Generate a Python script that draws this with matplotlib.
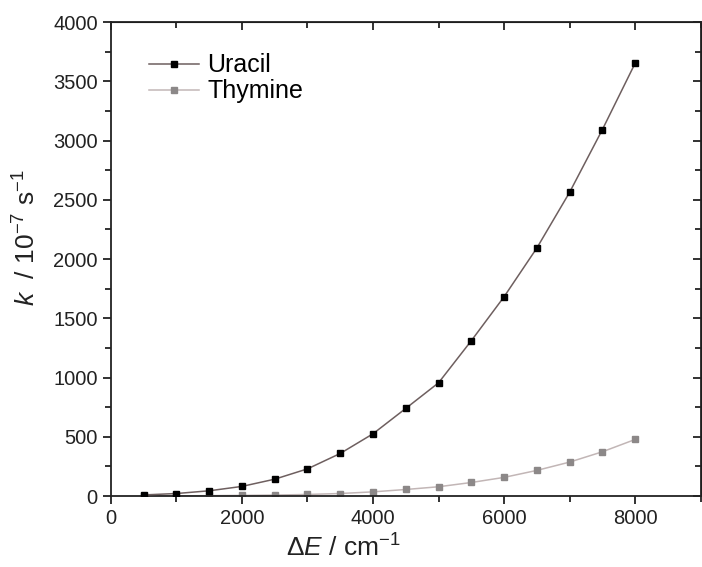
import numpy as np
import matplotlib
matplotlib.use("Agg")
import matplotlib.pyplot as plt
from matplotlib.ticker import MultipleLocator

plt.rcParams['font.family'] = ['Liberation Sans', 'DejaVu Sans']
plt.rcParams['mathtext.fontset'] = 'custom'
plt.rcParams['mathtext.rm'] = 'Liberation Sans'
plt.rcParams['mathtext.it'] = 'Liberation Sans:italic'

# data
delta_e = [500, 1000, 1500, 2000, 2500, 3000, 3500, 4000,
           4500, 5000, 5500, 6000, 6500, 7000, 7500, 8000]
uracil = [10, 22, 45, 82, 143, 230, 360, 526,
          740, 956, 1311, 1682, 2093, 2563, 3092, 3652]
thymine = [1, 2, 4, 6, 9, 14, 22, 36,
           56, 79, 115, 158, 217, 287, 374, 478]

fig = plt.figure(figsize=(7.02, 5.67), dpi=100)
ax = fig.add_axes([0.158, 0.125, 0.84, 0.836])

ax.plot(delta_e, uracil, color='#6e5f5f', lw=1.1, marker='s', ms=4.5,
        mfc='black', mec='black', label='Uracil', zorder=3)
ax.plot(delta_e, thymine, color='#c2b6b6', lw=1.1, marker='s', ms=4.5,
        mfc='#8c8888', mec='#8c8888', label='Thymine', zorder=2)

ax.set_xlim(0, 9000)
ax.set_ylim(0, 4000)
ax.xaxis.set_major_locator(MultipleLocator(2000))
ax.xaxis.set_minor_locator(MultipleLocator(1000))
ax.yaxis.set_major_locator(MultipleLocator(500))
ax.yaxis.set_minor_locator(MultipleLocator(250))

for s in ax.spines.values():
    s.set_linewidth(1.3)
    s.set_color('#222222')

ax.tick_params(which='both', direction='out', width=1.3, colors='#222222',
               labelsize=14.5, labelcolor='#222222')
ax.tick_params(which='major', length=6)
ax.tick_params(which='minor', length=4)

# top/right ticks point inward
top = ax.secondary_xaxis('top')
top.xaxis.set_major_locator(MultipleLocator(2000))
top.xaxis.set_minor_locator(MultipleLocator(1000))
top.tick_params(which='both', direction='in', width=1.3, colors='#222222', labeltop=False)
top.tick_params(which='major', length=6)
top.tick_params(which='minor', length=4)
right = ax.secondary_yaxis('right')
right.yaxis.set_major_locator(MultipleLocator(500))
right.yaxis.set_minor_locator(MultipleLocator(250))
right.tick_params(which='both', direction='in', width=1.3, colors='#222222', labelright=False)
right.tick_params(which='major', length=6)
right.tick_params(which='minor', length=4)

ax.set_xlabel(r'$\Delta E$ / cm$^{-1}$', fontsize=19, color='#222222')
ax.set_ylabel(r'$k$  / 10$^{-7}$ s$^{-1}$', fontsize=19, color='#222222')
ax.xaxis.set_label_coords(0.395, -0.08)
ax.yaxis.set_label_coords(-0.12, 0.545)

ax.legend(loc='upper left', bbox_to_anchor=(0.047, 0.955), frameon=False,
          fontsize=18, handlelength=2.0, handletextpad=0.35, labelspacing=0.08,
          borderaxespad=0)

fig.savefig('out.png', dpi=100)
